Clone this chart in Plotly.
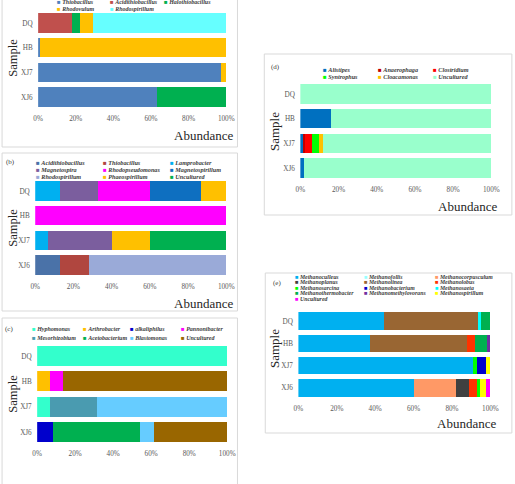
import plotly.graph_objects as go

W, H = 515, 484
samples = ["DQ", "HB", "XJ7", "XJ6"]
tick_vals = [0, 20, 40, 60, 80, 100]
tick_text = ["0%", "20%", "40%", "60%", "80%", "100%"]

# ---- panel (a) ----
a_names = ["Thiobacillus", "Acidithiobacillus", "Halothiobacillus", "Rhodovulum", "Rhodospirillum"]
a_colors = ["#4F81BD", "#C0504D", "#00B050", "#FFC000", "#66FFFF"]
a_values = [
    [0, 1, 97, 63],
    [18, 0, 0, 0],
    [4, 0, 0, 37],
    [7, 99, 3, 0],
    [71, 0, 0, 0],
]

# ---- panel (b) ----
b_names = ["Acidithiobacillus", "Thiobacillus", "Lamprobacter",
           "Magnetospira", "Rhodopseudomonas", "Magnetospirillum",
           "Rhodospirillum", "Phaeospirillum", "Uncultured"]
b_colors = ["#4A72A8", "#B0463F", "#00B0F0", "#7B5E9E", "#FF00FF", "#0E6FC0",
            "#9AAAD8", "#FFC000", "#00B050"]
b_values = [
    [0, 0, 0, 13],
    [0, 0, 0, 15],
    [13, 0, 6.6, 0],
    [20, 0, 33.4, 0],
    [27, 100, 0, 0],
    [27, 0, 0, 0],
    [0, 0, 0, 72],
    [13, 0, 20, 0],
    [0, 0, 40, 0],
]

# ---- panel (c) ----
c_names = ["Hyphomonas", "Arthrobacter", "alkaliphilus", "Pannonibacter",
           "Mesorhizobium", "Acetobacterium", "Blastomonas", "Uncultured"]
c_colors = ["#33FFCC", "#FFC000", "#0000CC", "#FF00FF",
            "#4A9BB0", "#00B050", "#66CCFF", "#996600"]
c_values = [
    [100, 0, 6.5, 0],
    [0, 6.7, 0, 0],
    [0, 0, 0, 8.2],
    [0, 7.1, 0, 0],
    [0, 0, 25, 0],
    [0, 0, 0, 45.8],
    [0, 0, 68.5, 7.7],
    [0, 86.2, 0, 38.3],
]

# ---- panel (d) ----
d_names = ["Alistipes", "Anaerophaga", "Clostridium", "Syntrophus", "Cloacamonas", "Uncultured"]
d_colors = ["#0070C0", "#C00000", "#FF0000", "#00FF00", "#FFC000", "#99FFCC"]
d_values = [
    [0, 16, 2, 2],
    [0, 0, 0.5, 0],
    [0, 0, 3.5, 0],
    [0, 0, 4, 0],
    [0, 0, 2, 0],
    [100, 84, 88, 98],
]

# ---- panel (e) ----
e_names = ["Methanoculleus", "Methanofollis", "Methanocorpusculum",
           "Methanoplanus", "Methanolinea", "Methanolobus",
           "Methanosarcina", "Methanobacterium", "Methanosaeta",
           "Methanothermobacter", "Methanomethylovorans", "Methanospirillum",
           "Uncultured"]
e_colors = ["#00B0F0", "#99FFFF", "#FF9966", "#404040", "#996633", "#FF3300",
            "#00FF00", "#0000CC", "#00FFFF", "#00B050", "#7030A0", "#FFFF00",
            "#FF00FF"]
e_values = [
    [44.5, 37.5, 91, 60],
    [0, 0, 0, 0],
    [0, 0, 0, 22],
    [0, 0, 0, 7],
    [49.5, 50.5, 0, 0],
    [0, 4, 0, 4.5],
    [0, 0, 2, 1],
    [0, 0, 4.5, 0],
    [1, 0, 0, 0],
    [5, 6, 0, 0],
    [0, 2, 0, 0],
    [0, 0, 2.5, 3],
    [0, 0, 0, 2.5],
]


def px(x):
    return x / W


def py(y):
    return 1 - y / H


panels = [
    dict(tag="", names=a_names, colors=a_colors, values=a_values,
         xdom=(34, 227), ydom=(10.7, 109.3), frame=(-3, -40, 238.5, 147),
         tag_xy=None, leg_cols=[51, 106, 161], leg_rows=[2.5, 9.5], leg_fs=6.0,
         sample_xy=(8, 58), sample_fs=12.5, abund_xy=(204, 136)),
    dict(tag="(b)", names=b_names, colors=b_colors, values=b_values,
         xdom=(31, 227), ydom=(178.7, 277.3), frame=(-3, 153, 238.5, 311),
         tag_xy=(6, 162), leg_cols=[29.5, 98.5, 167], leg_rows=[162, 169, 176], leg_fs=6.2,
         sample_xy=(8, 228), sample_fs=12.5, abund_xy=(204, 303)),
    dict(tag="(c)", names=c_names, colors=c_colors, values=c_values,
         xdom=(33, 228), ydom=(343.3, 444.7), frame=(-3, 318, 238.5, 500),
         tag_xy=(4, 329), leg_cols=[26, 78, 126, 178], leg_rows=[329, 338], leg_fs=6.0,
         sample_xy=(8, 394), sample_fs=12.5, abund_xy=None),
    dict(tag="(d)", names=d_names, colors=d_colors, values=d_values,
         xdom=(303, 499), ydom=(81.7, 180.3), frame=(266, 54, 520, 215),
         tag_xy=(278, 67), leg_cols=[324, 381, 437], leg_rows=[69, 76], leg_fs=6.2,
         sample_xy=(276, 132), sample_fs=13, abund_xy=(474, 206)),
    dict(tag="(e)", names=e_names, colors=e_colors, values=e_values,
         xdom=(301, 498), ydom=(310, 399), frame=(267, 273, 520, 433),
         tag_xy=(279, 283), leg_cols=[295, 366, 439], leg_rows=[276.5, 282, 287.5, 293, 298.5],
         leg_fs=5.8, sample_xy=(276, 349), sample_fs=13, abund_xy=(473, 423)),
]

fig = go.Figure()
layout = dict(
    width=W, height=H, margin=dict(l=0, r=0, t=0, b=0),
    paper_bgcolor="white", plot_bgcolor="white",
    barmode="stack", bargap=0.22, showlegend=False,
    font=dict(family="Liberation Serif", color="#404040"),
)
annotations = []
shapes = []
SERIF = "Liberation Serif"

for i, p in enumerate(panels, start=1):
    sx = "" if i == 1 else str(i)
    for name, color, vals in zip(p["names"], p["colors"], p["values"]):
        fig.add_trace(go.Bar(
            y=samples, x=vals, name=name, orientation="h",
            marker=dict(color=color, line=dict(width=0)),
            xaxis="x" + sx, yaxis="y" + sx, showlegend=False,
        ))
    layout["xaxis" + sx] = dict(
        domain=[px(p["xdom"][0]), px(p["xdom"][1])], anchor="y" + sx,
        range=[0, 100], tickvals=tick_vals, ticktext=tick_text,
        showgrid=False, zeroline=False, showline=False,
        ticks="outside", ticklen=2, tickcolor="rgba(0,0,0,0)",
        tickfont=dict(family=SERIF, size=7.2, color="#595959"), fixedrange=True,
    )
    layout["yaxis" + sx] = dict(
        domain=[py(p["ydom"][1]), py(p["ydom"][0])], anchor="x" + sx,
        type="category", categoryorder="array", categoryarray=samples,
        autorange="reversed", showgrid=False, zeroline=False, showline=False,
        ticks="outside", ticklen=3, tickcolor="rgba(0,0,0,0)",
        tickfont=dict(family=SERIF, size=7.2, color="#595959"), fixedrange=True,
    )
    fx0, fy0, fx1, fy1 = p["frame"]
    shapes.append(dict(type="rect", xref="paper", yref="paper",
                       x0=px(fx0), x1=px(fx1), y0=py(fy1), y1=py(fy0),
                       line=dict(color="#D9D9D9", width=1), layer="below"))
    if p["tag_xy"]:
        annotations.append(dict(text=p["tag"], x=px(p["tag_xy"][0]), y=py(p["tag_xy"][1]),
                                xref="paper", yref="paper", showarrow=False,
                                xanchor="center", yanchor="middle",
                                font=dict(family=SERIF, size=7, color="#404040")))
    ncol = len(p["leg_cols"])
    for k, (name, color) in enumerate(zip(p["names"], p["colors"])):
        r, c = divmod(k, ncol)
        annotations.append(dict(
            text=f'<span style="color:{color}">■</span> <b><i>{name}</i></b>',
            x=px(p["leg_cols"][c]), y=py(p["leg_rows"][r]),
            xref="paper", yref="paper", showarrow=False,
            xanchor="left", yanchor="middle",
            font=dict(family=SERIF, size=p["leg_fs"], color="#404040")))
    annotations.append(dict(text="Sample", x=px(p["sample_xy"][0]), y=py(p["sample_xy"][1]),
                            xref="paper", yref="paper", showarrow=False, textangle=-90,
                            xanchor="center", yanchor="middle",
                            font=dict(family=SERIF, size=p["sample_fs"], color="#262626")))
    if p["abund_xy"]:
        annotations.append(dict(text="Abundance", x=px(p["abund_xy"][0]), y=py(p["abund_xy"][1]),
                                xref="paper", yref="paper", showarrow=False,
                                xanchor="center", yanchor="middle",
                                font=dict(family=SERIF, size=13, color="#262626")))

layout["annotations"] = annotations
layout["shapes"] = shapes
fig.update_layout(**layout)
fig.write_html("out.html")
